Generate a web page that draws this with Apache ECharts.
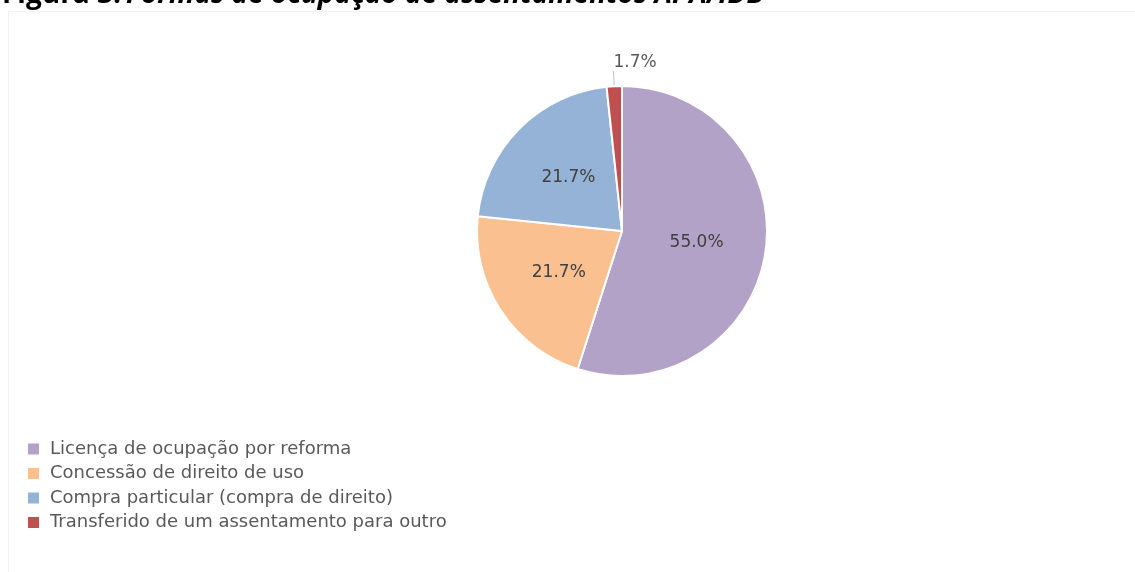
<!DOCTYPE html>
<html>
<head>
<meta charset="utf-8">
<script src="https://cdn.jsdelivr.net/npm/echarts@6/dist/echarts.min.js"></script>
<style>
  html, body { margin: 0; padding: 0; background: #fff; }
  #chart { width: 1135px; height: 572px; }
</style>
</head>
<body>
<div id="chart"></div>
<script>
// categorias e valores (percentuais)
var categorias = [
    'Licença de ocupação por reforma',
    'Concessão de direito de uso',
    'Compra particular (compra de direito)',
    'Transferido de um assentamento para outro'
];
var valores = [55.0, 21.7, 21.7, 1.7];
var cores = ['#b3a2c7', '#fac090', '#95b3d7', '#c0504d'];

var dados = [];
for (var i = 0; i < categorias.length; i++) {
    dados.push({ name: categorias[i], value: valores[i] });
}
// a fatia pequena tem o rótulo por fora
dados[3].label = { position: 'outside', distanceToLabelLine: 0, color: '#595959' };
dados[3].labelLine = { show: true, length: 15, length2: 0, lineStyle: { color: '#bfbfbf', width: 1 } };

var option = {
    animation: false,
    color: cores,
    graphic: [{
        type: 'rect',
        shape: { x: 8.5, y: 11.5, width: 1140, height: 600 },
        style: { fill: 'none', stroke: '#f2f2f2', lineWidth: 1 }
    }],
    title: {
        left: -3,
        top: -24,
        text: '{b|Figura 3:} {i|Formas de ocupação de assentamentos APA/IDB}',
        textStyle: {
            rich: {
                b: { fontFamily: 'Open Sans', fontWeight: 'bold', fontSize: 28, color: '#000' },
                i: { fontFamily: 'Open Sans', fontStyle: 'italic', fontSize: 28, color: '#000' }
            }
        }
    },
    legend: {
        orient: 'vertical',
        left: 23,
        top: 435,
        icon: 'rect',
        itemWidth: 11,
        itemHeight: 11,
        itemGap: 6.5,
        itemStyle: { borderWidth: 0 },
        data: categorias,
        textStyle: { fontFamily: 'DejaVu Sans', fontSize: 18, color: '#595959', lineHeight: 18, padding: [0, 0, 0, 6] }
    },
    series: [{
        type: 'pie',
        center: [622, 231],
        radius: 145,
        startAngle: 90,
        clockwise: true,
        label: {
            position: 'inside',
            formatter: function (p) { return p.value.toFixed(1) + '%'; },
            fontFamily: 'DejaVu Sans',
            fontSize: 17,
            color: '#404040'
        },
        labelLine: { show: false },
        labelLayout: function (params) {
            if (params.dataIndex === 3) {
                return { align: 'left', verticalAlign: 'bottom' };
            }
            return {};
        },
        itemStyle: { borderColor: '#fff', borderWidth: 2 },
        emphasis: { disabled: true },
        data: dados
    }]
};

var chart = echarts.init(document.getElementById('chart'));
chart.setOption(option);
</script>
</body>
</html>
